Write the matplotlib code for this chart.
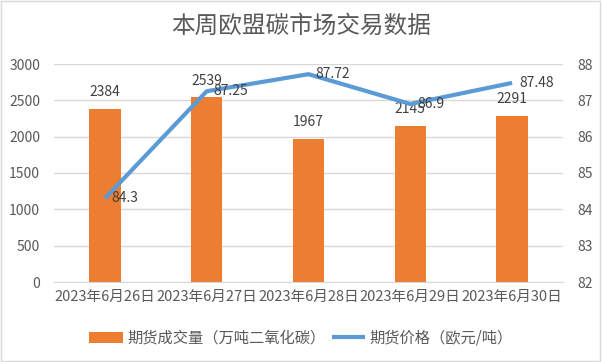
import numpy as np
import matplotlib
matplotlib.use("Agg")
import matplotlib.pyplot as plt
from matplotlib.patches import Rectangle

plt.rcParams['font.family'] = ['Noto Sans CJK SC', 'DejaVu Sans']

# data
dates = ['2023年6月26日', '2023年6月27日', '2023年6月28日', '2023年6月29日', '2023年6月30日']
volume = [2384, 2539, 1967, 2145, 2291]
price = [84.3, 87.25, 87.72, 86.9, 87.48]

bar_color = '#ED7D31'
line_color = '#5B9BD5'
text_color = '#595959'

fig = plt.figure(figsize=(6.02, 3.62), dpi=100)
ax = fig.add_axes([54 / 602, 1 - 282 / 362, 509 / 602, 218 / 362])
ax2 = ax.twinx()

x = np.arange(len(dates))
ax.bar(x, volume, width=0.31, color=bar_color, zorder=2, label='期货成交量（万吨二氧化碳）')
ax2.plot(x, price, color=line_color, lw=3, zorder=3, label='期货价格（欧元/吨）', solid_capstyle='butt')

for xi, v in zip(x, volume):
    ax.annotate(str(v), (xi, v), xytext=(0, 7), textcoords='offset points',
                ha='center', va='bottom', fontsize=10, color='#404040')
for xi, p in zip(x, price):
    ax2.annotate(f'{p:g}', (xi, p), xytext=(5, 0), textcoords='offset points',
                 ha='left', va='center', fontsize=10, color='#404040')

ax.set_xlim(-0.5, len(dates) - 0.5)
ax.set_ylim(0, 3000)
ax.set_yticks(range(0, 3001, 500))
ax2.set_ylim(82, 88)
ax2.set_yticks(range(82, 89))
ax.set_xticks(x)
ax.set_xticklabels(dates)
ax.grid(axis='y', color='#D9D9D9', lw=1, zorder=0)
ax.set_axisbelow(True)
ax.set_zorder(ax2.get_zorder() - 1)
ax.patch.set_visible(False)

for a in (ax, ax2):
    for s in a.spines.values():
        s.set_visible(False)
    a.tick_params(length=0, labelsize=10, colors=text_color)
ax.spines['bottom'].set_visible(True)
ax.spines['bottom'].set_color('#D9D9D9')
ax.tick_params(axis='y', pad=10)
ax2.tick_params(axis='y', pad=10)
ax.tick_params(axis='x', labelsize=10.5, pad=6)

fig.suptitle('本周欧盟碳市场交易数据', y=1 - 26 / 362, va='center', fontsize=17, color=text_color)

h1, l1 = ax.get_legend_handles_labels()
h2, l2 = ax2.get_legend_handles_labels()
fig.legend(h1 + h2, l1 + l2, loc='center', bbox_to_anchor=(0.5, 1 - 338 / 362), ncol=2,
           frameon=False, fontsize=11, labelcolor=text_color, handlelength=2.2,
           handletextpad=0.3, columnspacing=0.4)

fig.patches.append(Rectangle((0.002, 0.003), 0.995, 0.994, transform=fig.transFigure,
                             fill=False, edgecolor='#D9D9D9', lw=1))

fig.savefig('out.png', dpi=100)
